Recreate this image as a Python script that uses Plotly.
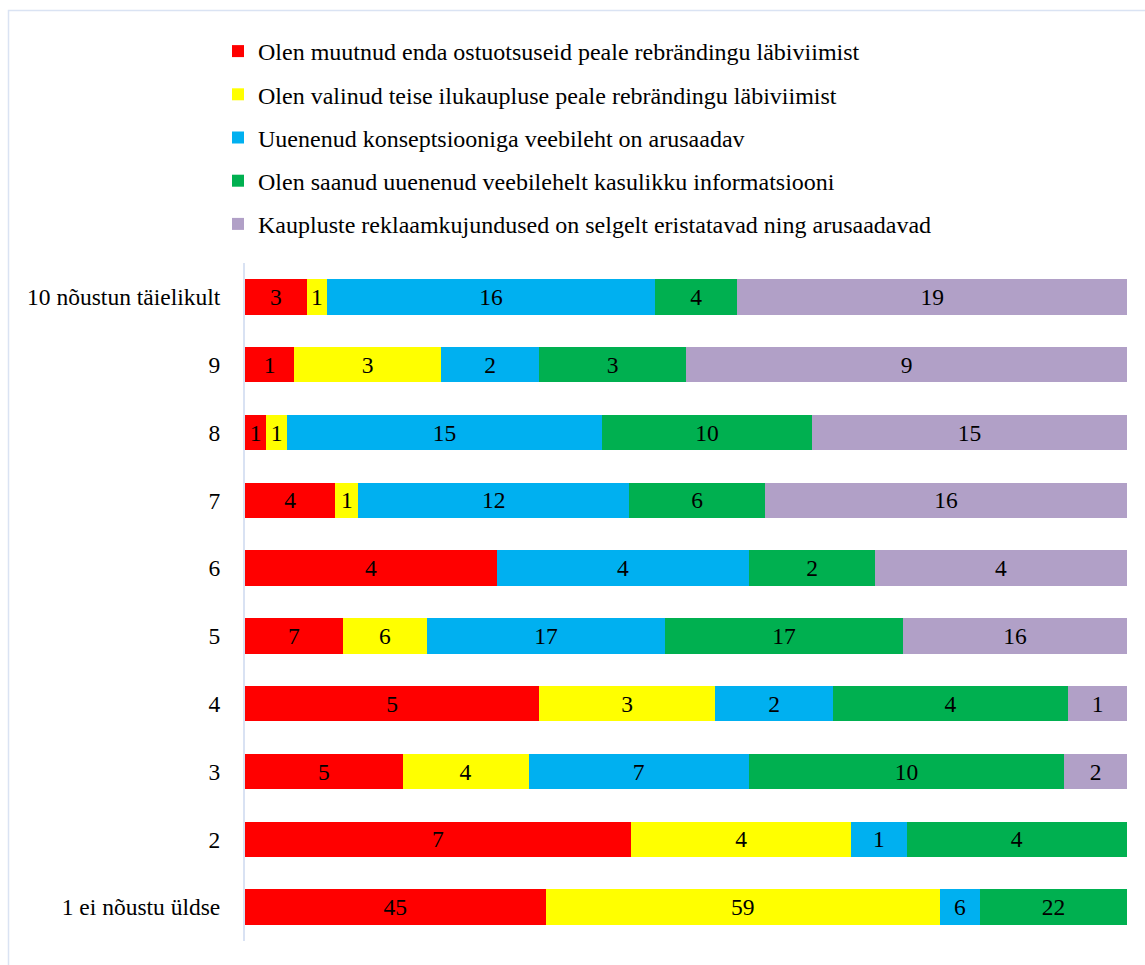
import plotly.graph_objects as go

categories = ["10 nõustun täielikult", "9", "8", "7", "6", "5", "4", "3", "2", "1 ei nõustu üldse"]

series_names = [
    "Olen muutnud enda ostuotsuseid peale rebrändingu läbiviimist",
    "Olen valinud teise ilukaupluse peale rebrändingu läbiviimist",
    "Uuenenud konseptsiooniga veebileht on arusaadav",
    "Olen saanud uuenenud veebilehelt kasulikku informatsiooni",
    "Kaupluste reklaamkujundused on selgelt eristatavad ning arusaadavad",
]

red_vals = [3, 1, 1, 4, 4, 7, 5, 5, 7, 45]
yellow_vals = [1, 3, 1, 1, 0, 6, 3, 4, 4, 59]
blue_vals = [16, 2, 15, 12, 4, 17, 2, 7, 1, 6]
green_vals = [4, 3, 10, 6, 2, 17, 4, 10, 4, 22]
purple_vals = [19, 9, 15, 16, 4, 16, 1, 2, 0, 0]

colors = ["#FF0000", "#FFFF00", "#00B0F0", "#00B050", "#B1A0C7"]
all_vals = [red_vals, yellow_vals, blue_vals, green_vals, purple_vals]

FONT = "Liberation Serif, Times New Roman, serif"
FS = 23.5

fig = go.Figure()
for i, (name, vals, col) in enumerate(zip(series_names, all_vals, colors)):
    fig.add_trace(go.Bar(
        y=categories, x=vals, name=name, orientation="h",
        marker=dict(color=col, line=dict(width=0)),
        text=[str(v) if v else "" for v in vals],
        textposition="inside", insidetextanchor="middle",
        textangle=0, constraintext="none",
        textfont=dict(family=FONT, size=FS, color="black"),
        legendgroup=f"g{i}",
        hoverinfo="skip",
    ))

W, H = 1145, 965
L, R, T, B = 245, 18, 263, 24
pw, ph = W - L - R, H - T - B

fig.update_layout(
    width=W, height=H,
    margin=dict(l=L, r=R, t=T, b=B),
    barmode="stack", barnorm="percent", bargap=0.48,
    plot_bgcolor="white", paper_bgcolor="white",
    font=dict(family=FONT, size=FS, color="black"),
    showlegend=True,
    legend=dict(
        x=(218 - L) / pw, xanchor="left",
        y=(H - B - 29) / ph, yanchor="top",
        yref="paper",
        traceorder="grouped",
        tracegroupgap=9,
        font=dict(family=FONT, size=24, color="black"),
        bgcolor="rgba(0,0,0,0)",
    ),
    xaxis=dict(range=[0, 100], visible=False, fixedrange=True),
    yaxis=dict(
        autorange="reversed", showline=True, linecolor="#D9E2F3", linewidth=2,
        ticks="", ticklabelstandoff=18, showgrid=False,
        tickfont=dict(family=FONT, size=FS, color="black"),
    ),
    shapes=[dict(
        type="rect", xref="paper", yref="paper",
        x0=(8.5 - L) / pw, x1=(W + 5 - L) / pw,
        y0=(H - B - (H + 5)) / ph, y1=(H - B - 10.5) / ph,
        line=dict(color="#DAE3F3", width=1.5), fillcolor="rgba(0,0,0,0)",
        layer="below",
    )],
)

fig.write_html("out.html")
